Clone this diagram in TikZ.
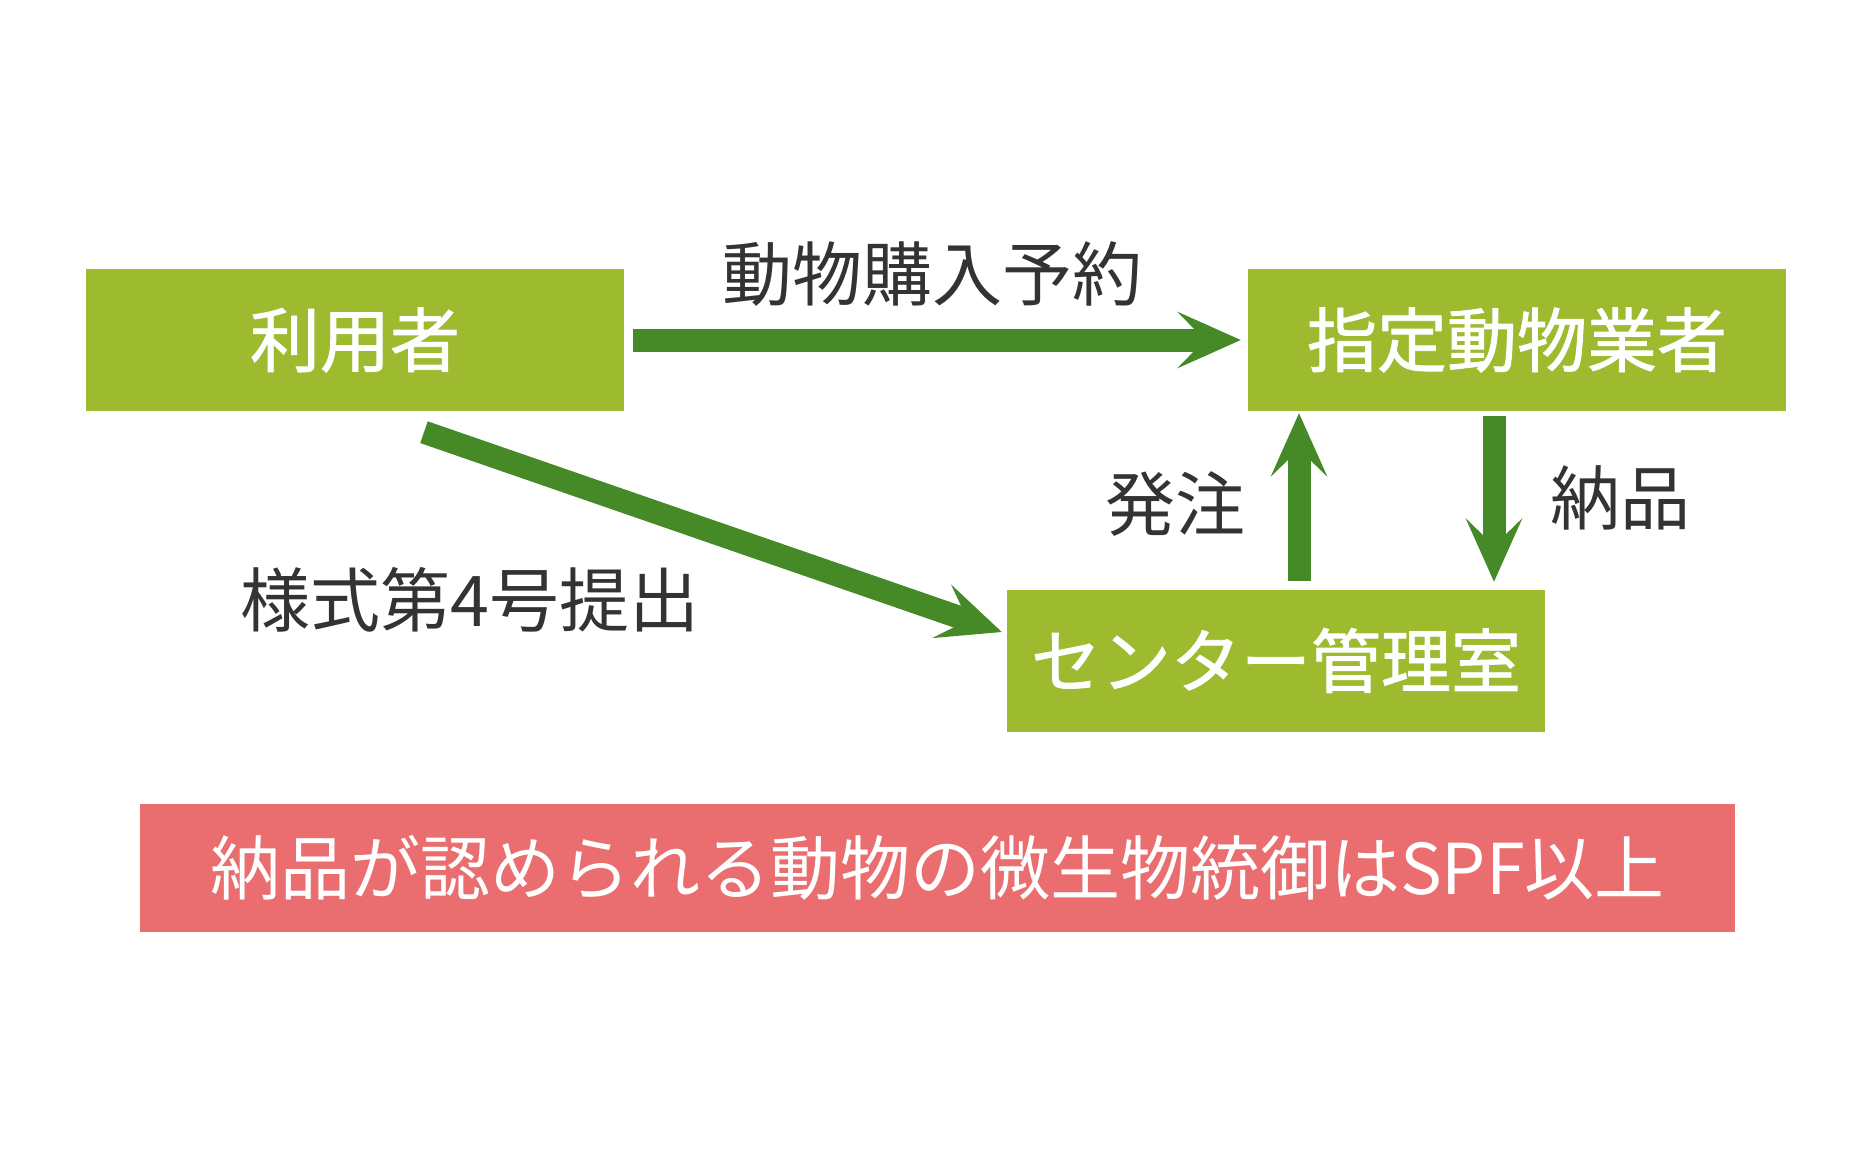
\documentclass[tikz,border=0pt]{standalone}
\usepackage{fontspec}
\setmainfont{Noto Sans CJK JP}
\newfontfamily\boxfont{Noto Sans CJK JP}[FakeBold=1.2]
\usetikzlibrary{arrows.meta}
\definecolor{boxgreen}{RGB}{158,186,46}
\definecolor{arrowgreen}{RGB}{70,137,39}
\definecolor{notepink}{RGB}{234,110,111}
\definecolor{labelgray}{RGB}{51,51,51}

\begin{document}
\begin{tikzpicture}[x=1pt, y=-1pt,
    box/.style={fill=boxgreen, text=white, font=\fontsize{70}{74}\boxfont,
        minimum width=538pt, minimum height=142pt, inner sep=0pt},
    notebox/.style={fill=notepink, text=white, font=\fontsize{70}{74}\selectfont,
        minimum width=1595pt, minimum height=128pt, inner sep=0pt},
    flow/.style={draw=arrowgreen, line width=23pt,
        -{Stealth[length=63pt, width=56pt, inset=27pt]}},
    lbl/.style={text=labelgray, font=\fontsize{70}{74}\selectfont, inner sep=0pt}]
    \useasboundingbox (0,0) rectangle (1872,1156);
    \node [box] (user) at (355,340) {利用者};
    \node [box] (vendor) at (1517,340) {指定動物業者};
    \node [box] (office) at (1276,660.5) {センター管理室};
    \node [notebox] (spf) at (937.5,868) {納品が認められる動物の微生物統御はSPF以上};
    \draw [flow] ([xshift=9pt]user.east) -- ([xshift=-7pt]vendor.west);
    \draw [flow] ([xshift=69pt, yshift=-21pt]user.south) -- ([xshift=-5pt, yshift=28.5pt]office.west);
    \draw [flow] ([xshift=23pt, yshift=8.5pt]office.north) -- ([xshift=-218pt, yshift=-2pt]vendor.south);
    \draw [flow] ([xshift=-23pt, yshift=-5pt]vendor.south) -- ([xshift=218pt, yshift=7.5pt]office.north);
    \node [lbl] (reserve) at (932,274) {動物購入予約};
    \node [lbl] (form) at (470,600) {様式第4号提出};
    \node [lbl] (order) at (1175,504) {発注};
    \node [lbl] (deliver) at (1620,498) {納品};
\end{tikzpicture}
\end{document}
